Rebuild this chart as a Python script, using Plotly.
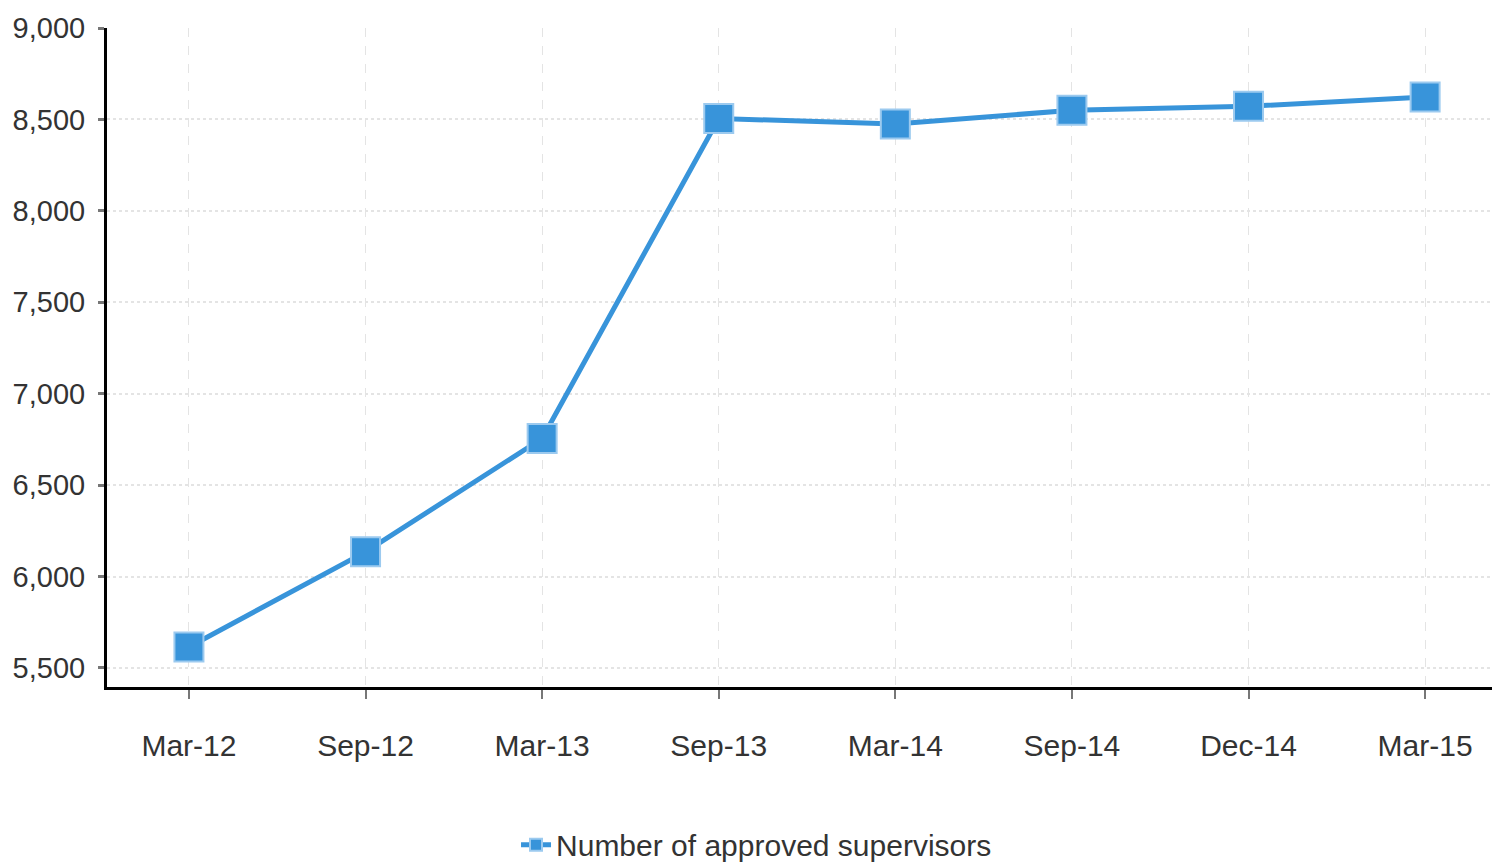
import plotly.graph_objects as go

categories = ["Mar-12", "Sep-12", "Mar-13", "Sep-13", "Mar-14", "Sep-14", "Dec-14", "Mar-15"]
supervisors = [5615, 6135, 6755, 8505, 8475, 8550, 8572, 8622]
y_ticks = [5500, 6000, 6500, 7000, 7500, 8000, 8500, 9000]
series_name = "Number of approved supervisors"

FONT = "Liberation Sans, Arial, sans-serif"
BLUE = "#3894da"

fig = go.Figure()
fig.add_trace(go.Scatter(
    x=categories, y=supervisors, name=series_name,
    mode="lines+markers",
    line=dict(color=BLUE, width=5),
    marker=dict(symbol="square", size=29, color=BLUE,
                line=dict(color="#9ccaef", width=2)),
))

fig.update_layout(
    width=1492, height=859,
    margin=dict(l=99, r=3, t=20, b=180),
    paper_bgcolor="white", plot_bgcolor="white",
    font=dict(family=FONT, color="#333333", size=30),
    showlegend=True,
    legend=dict(orientation="h", xref="container", yref="container",
                x=0.3405, xanchor="left", y=0.026, yanchor="middle",
                font=dict(size=30, color="#333333", family=FONT),
                itemsizing="constant"),
    xaxis=dict(
        type="category", range=[-0.464, 7.407],
        showgrid=True, gridcolor="#e4e4e4", griddash="dash", gridwidth=1,
        showline=True, linecolor="black", linewidth=3,
        ticks="outside", ticklen=9, tickcolor="#777777", tickwidth=2,
        ticklabelstandoff=21,
        tickfont=dict(size=30, family=FONT, color="#333333"),
        zeroline=False, automargin=False,
    ),
    yaxis=dict(
        range=[5396, 9000], tickvals=y_ticks, tickformat=",",
        showgrid=True, gridcolor="#e4e4e4", griddash="dot", gridwidth=2,
        showline=True, linecolor="black", linewidth=3,
        ticks="outside", ticklen=6, tickcolor="#777777", tickwidth=3,
        ticklabelstandoff=7,
        tickfont=dict(size=29, family=FONT, color="#333333"),
        zeroline=False, automargin=False,
    ),
)

fig.write_html("out.html")
